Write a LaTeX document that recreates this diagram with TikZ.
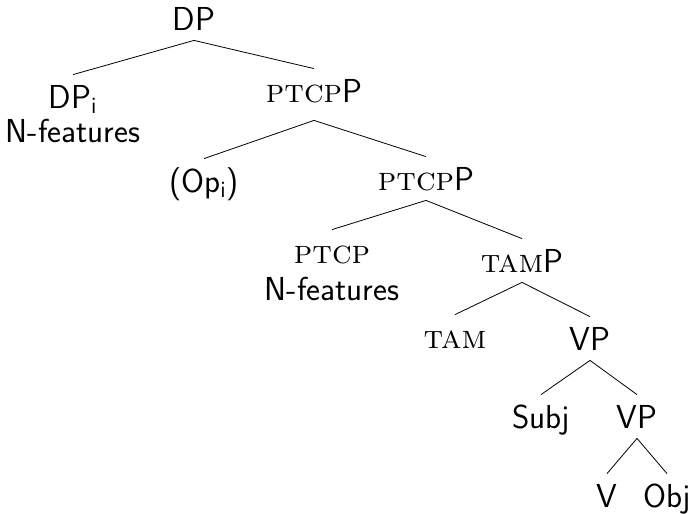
\documentclass[tikz,border=0pt]{standalone}
\usepackage{fontspec}
\usepackage{tikz}
\renewcommand{\familydefault}{\sfdefault}
\newcommand{\fsc}[1]{\textrm{\scshape #1}}

\begin{document}
\begin{tikzpicture}[x=.5pt,y=-.5pt,
  lab/.style={anchor=base,inner xsep=0pt,inner ysep=2pt,text height=14.5pt,text depth=3pt,
    font=\fontsize{16.6}{19}\selectfont}]
 \useasboundingbox (0,0) rectangle (691,514);
 % nodes
 \node[lab] (dp) at (194,30) {DP};
 \node[lab] (dpi) at (73,108) {DP\textsubscript{i}};
 \node[lab] (dpifeat) at (73,142) {N-features};
 \node[lab,text depth=7pt] (ptcppa) at (314,102) {\fsc{ptcp}P};
 \node[lab] (op) at (204,192) {(Op\textsubscript{i})};
 \node[lab] (ptcppb) at (426,190) {\fsc{ptcp}P};
 \node[lab] (ptcp) at (332,263) {\fsc{ptcp}};
 \node[lab] (ptcpfeat) at (332,300) {N-features};
 \node[lab] (tamp) at (522,272) {\fsc{tam}P};
 \node[lab] (tam) at (455,348) {\fsc{tam}};
 \node[lab] (vpa) at (590,350) {VP};
 \node[lab] (subj) at (541,428) {Subj};
 \node[lab] (vpb) at (637,428) {VP};
 \node[lab] (v) at (607,507) {V};
 \node[lab] (obj) at (667,507) {Obj};
 % branches
 \foreach \p/\c in {dp/dpi,dp/ptcppa,ptcppa/op,ptcppa/ptcppb,ptcppb/ptcp,ptcppb/tamp,
   tamp/tam,tamp/vpa,vpa/subj,vpa/vpb,vpb/v,vpb/obj}
 \draw (\p.south) -- (\c.north);
\end{tikzpicture}
\end{document}
